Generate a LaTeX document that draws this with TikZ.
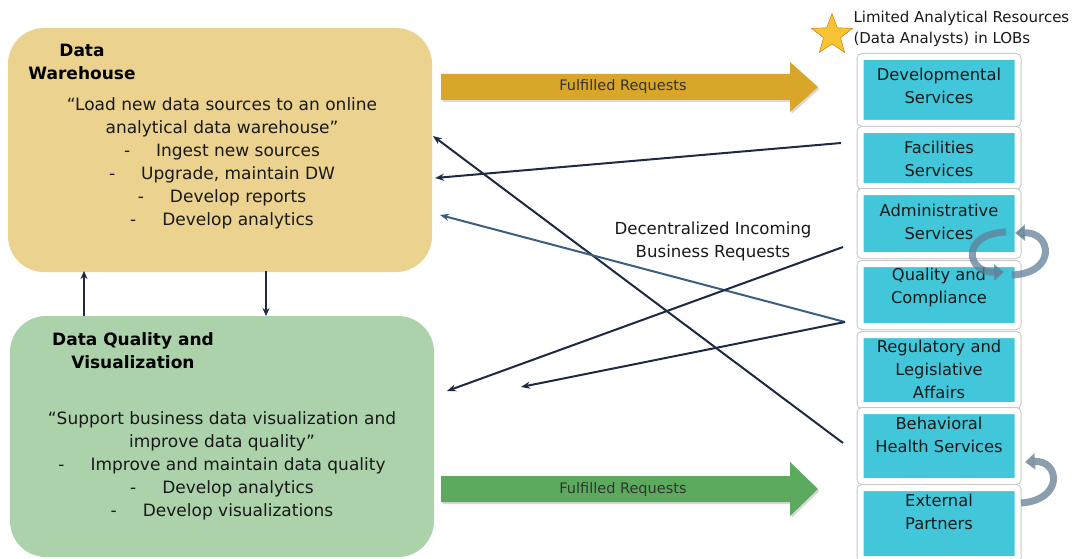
\documentclass[tikz,border=0pt]{standalone}
\usepackage{fontspec}
\setmainfont{DejaVu Sans}
\usetikzlibrary{shapes.geometric, arrows.meta, calc}

\definecolor{dwfill}{RGB}{235,210,143}
\definecolor{dqfill}{RGB}{171,210,171}
\definecolor{goldarrow}{RGB}{216,167,42}
\definecolor{greenarrow}{RGB}{91,170,94}
\definecolor{lobcyan}{RGB}{66,198,218}
\definecolor{navy}{RGB}{30,42,66}
\definecolor{steel}{RGB}{58,95,128}
\definecolor{loopblue}{RGB}{96,128,152}
\definecolor{loopgrey}{RGB}{128,146,164}
\definecolor{txt}{RGB}{25,25,25}
\definecolor{stargold}{RGB}{246,196,52}

\begin{document}
\begin{tikzpicture}[x=1pt, y=-1pt,
  bigbox/.style={rounded corners=36pt, inner sep=0pt, minimum width=424pt},
  bodytext/.style={align=center, text=txt, font=\fontsize{17}{23}\selectfont},
  titletext/.style={align=center, text=black, font=\bfseries\fontsize{17}{23}\selectfont},
  lobbox/.style={fill=lobcyan, draw=white, line width=6pt,
    preaction={draw=black!22, line width=8pt}, rounded corners=2pt,
    inner sep=0pt, minimum width=157pt},
  lobtext/.style={align=center, text=txt, font=\fontsize{16.3}{23}\selectfont},
  request/.style={draw=navy, line width=2pt, -{Stealth[length=9pt,width=7pt]}},
  vlink/.style={draw=navy, line width=2pt, -{Stealth[length=8pt,width=7pt]}},
  looparrow/.style={line width=7pt, -{Triangle[length=10pt,width=16pt]}},
  arrowlabel/.style={text=black!80, font=\fontsize{14.5}{16}\selectfont}
]
\useasboundingbox (0,0) rectangle (1076,559);

% team boxes
\node[bigbox, fill=dwfill, minimum height=244pt] (dw) at (220,150) {};
\node[bigbox, fill=dqfill, minimum height=241pt] (dq) at (222,436.5) {};

\node[titletext] (dwtitle) at (82,61.5) {Data\\Warehouse};
\node[bodytext] (dwbody) at (222,163.5) {%
  “Load new data sources to an online\\
  analytical data warehouse”\\
  -\hspace{26pt}Ingest new sources\\
  -\hspace{26pt}Upgrade, maintain DW\\
  -\hspace{26pt}Develop reports\\
  -\hspace{26pt}Develop analytics};

\node[titletext] (dqtitle) at (133,351) {Data Quality and\\Visualization};
\node[bodytext] (dqbody) at (222,466) {%
  “Support business data visualization and\\
  improve data quality”\\
  -\hspace{26pt}Improve and maintain data quality\\
  -\hspace{26pt}Develop analytics\\
  -\hspace{26pt}Develop visualizations};

% links between the two teams
\coordinate (upbot) at (84,316);
\coordinate (uptop) at (84,271);
\coordinate (dnbot) at (266,316);
\coordinate (dntop) at (266,271);
\draw[vlink] (upbot) -- (uptop);
\draw[vlink] (dntop) -- (dnbot);

% fulfilled request arrows
\fill[black!30, opacity=0.5, shift={(1.5,2)}] (441,74) -- (790,74) -- (790,62) -- (818,87) -- (790,112) -- (790,100) -- (441,100) -- cycle;
\fill[goldarrow] (441,74) -- (790,74) -- (790,62) -- (818,87) -- (790,112) -- (790,100) -- (441,100) -- cycle;
\node[arrowlabel] (fr1) at (623,87) {Fulfilled Requests};

\fill[black!30, opacity=0.5, shift={(1.5,2)}] (441,476) -- (790,476) -- (790,462) -- (818,489) -- (790,516) -- (790,502) -- (441,502) -- cycle;
\fill[greenarrow] (441,476) -- (790,476) -- (790,462) -- (818,489) -- (790,516) -- (790,502) -- (441,502) -- cycle;
\node[arrowlabel] (fr2) at (623,489) {Fulfilled Requests};

% lines of business
\node[lobbox, minimum height=66pt] (dev) at (939,90) {};
\node[lobbox, minimum height=56pt] (fac) at (939,158) {};
\node[lobbox, minimum height=63pt] (adm) at (939,223.5) {};
\node[lobbox, minimum height=62pt] (qc)  at (939,295) {};
\node[lobbox, minimum height=70pt] (reg) at (939,370) {};
\node[lobbox, minimum height=70pt] (beh) at (939,446) {};
\node[lobbox, minimum height=71pt] (ext) at (939,523.5) {};

\node[lobtext] (devt) at (939,85.5) {Developmental\\Services};
\node[lobtext] (fact) at (939,158.5) {Facilities\\Services};
\node[lobtext] (admt) at (939,221.5) {Administrative\\Services};
\node[lobtext] (qct)  at (939,287.5) {Quality and\\Compliance};
\node[lobtext] (regt) at (939,369) {Regulatory and\\Legislative\\Affairs};
\node[lobtext] (beht) at (939,434.5) {Behavioral\\Health Services};
\node[lobtext] (extt) at (939,511.5) {External\\Partners};

% analyst resources legend
\node[star, star points=5, star point ratio=2.4, fill=stargold, draw=orange!80!black, line width=0.4pt,
      minimum size=43pt, inner sep=0pt] (star) at (832,35) {};
\node[anchor=west, align=left, text=txt, font=\fontsize{15}{21}\selectfont] (res) at (850,28.5)
  {Limited Analytical Resources\\(Data Analysts) in LOBs};

% rotation of analysts between lines of business
\draw[looparrow, draw=loopblue, opacity=0.75]
  (1006,232) .. controls (960,234) and (966,273) .. (1004,272);
\draw[looparrow, draw=loopblue, opacity=0.75]
  (1012,275) .. controls (1057,273) and (1052,232) .. (1015,233);
\draw[looparrow, draw=loopgrey, opacity=0.9]
  (1021,503) .. controls (1064,500) and (1060,460) .. (1025,462);

% incoming business requests
\coordinate (rqfac) at (841,143);
\coordinate (rqadm) at (843,247);
\coordinate (rqqc)  at (845,322);
\coordinate (rqbeh) at (843,443);
\coordinate (indw1) at (435,178);
\coordinate (indw2) at (433,136);
\coordinate (indw3) at (440,215);
\coordinate (indq1) at (447,391);
\coordinate (indq2) at (521,387);

\draw[request] (rqfac) -- (indw1);
\draw[request] (rqbeh) -- (indw2);
\draw[request, draw=steel] (rqqc) -- (indw3);
\draw[request] (rqadm) -- (indq1);
\draw[request] (rqqc) -- (indq2);

\node[align=center, text=txt, font=\fontsize{16.6}{23}\selectfont] (decent) at (713,241.5)
  {Decentralized Incoming\\Business Requests};
\end{tikzpicture}
\end{document}
